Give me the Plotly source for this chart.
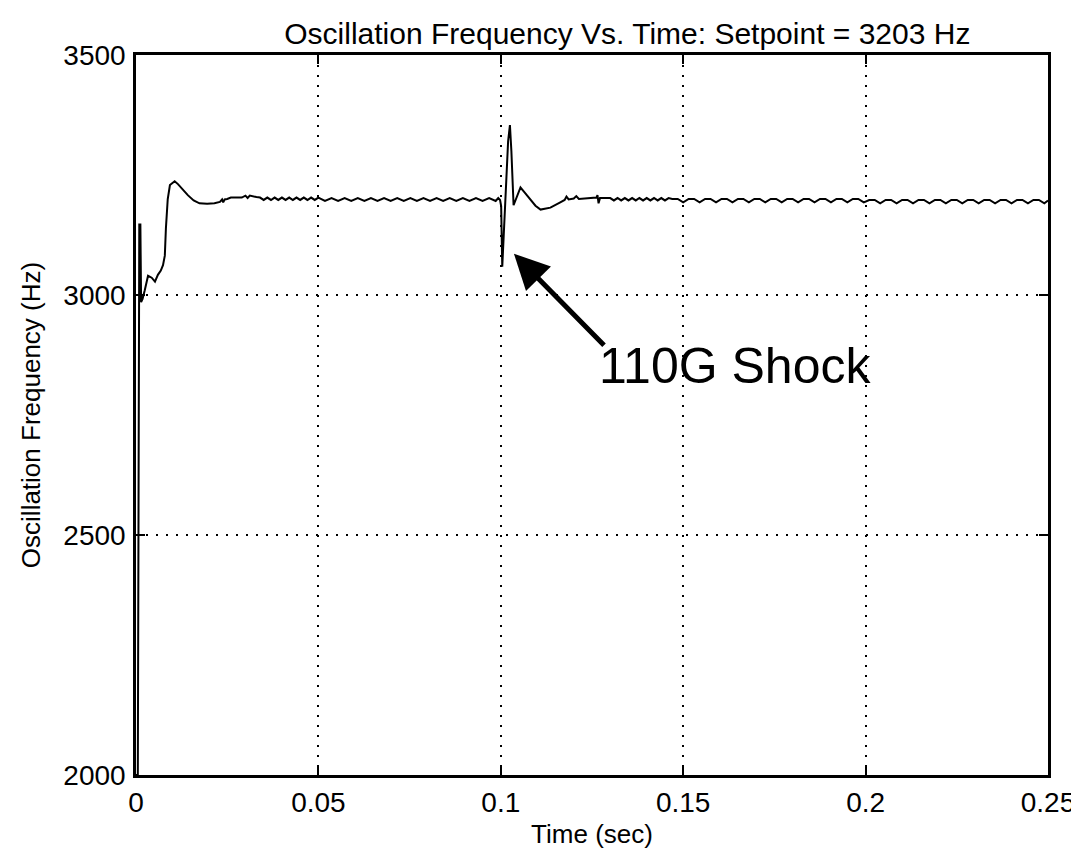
import plotly.graph_objects as go

# ---- data ----
startup_t = [0.0000, 0.0005, 0.0009, 0.0012, 0.0014, 0.0018, 0.0024, 0.0033, 0.0043, 0.0052,
             0.0060, 0.0068, 0.0074, 0.0079, 0.0082, 0.0087, 0.0093, 0.0100, 0.0106, 0.0115,
             0.0128, 0.0142, 0.0158, 0.0174, 0.0195, 0.0215, 0.0230, 0.0236, 0.0239, 0.0243,
             0.0250, 0.0260, 0.0290, 0.0300, 0.0306, 0.0312, 0.0330]
startup_f = [2000, 2000, 3147, 3147, 2985, 2992, 3010, 3040, 3036, 3028,
             3042, 3051, 3062, 3082, 3139, 3200, 3229, 3234, 3237, 3231,
             3219, 3208, 3197, 3191, 3190, 3191, 3194, 3199, 3193, 3199,
             3200, 3203, 3203, 3207, 3202, 3207, 3204]

steady1_t = [0.0340, 0.0350, 0.0360, 0.0370, 0.0380, 0.0390, 0.0400, 0.0410, 0.0420, 0.0430,
             0.0440, 0.0450, 0.0460, 0.0470, 0.0480, 0.0490, 0.0500,
             0.0518, 0.0536, 0.0554, 0.0572, 0.0590, 0.0608, 0.0626, 0.0644, 0.0662, 0.0680,
             0.0698, 0.0716, 0.0734, 0.0752, 0.0770, 0.0788, 0.0806, 0.0824, 0.0842, 0.0860,
             0.0878, 0.0896, 0.0914, 0.0932, 0.0950, 0.0968, 0.0986]
steady1_f = [3203, 3198, 3203, 3198, 3203, 3198, 3203, 3198, 3203, 3198,
             3203, 3198, 3203, 3198, 3203, 3198, 3203,
             3196, 3202, 3196, 3202, 3196, 3202, 3196, 3202, 3196, 3202,
             3196, 3202, 3196, 3202, 3196, 3202, 3196, 3202, 3196, 3202,
             3196, 3202, 3196, 3202, 3196, 3202, 3196]

shock_t = [0.0993, 0.0998, 0.1001, 0.1004, 0.1008, 0.1014, 0.1020, 0.1025, 0.1029, 0.1035,
           0.1045, 0.1054, 0.1064, 0.1082, 0.1095, 0.1109, 0.1136, 0.1163, 0.1175, 0.1180,
           0.1186, 0.1200, 0.1207, 0.1214, 0.1240, 0.1262, 0.1265, 0.1268, 0.1272, 0.1300]
shock_f = [3202, 3198, 3185, 3059, 3120, 3200, 3320, 3354, 3300, 3187,
           3205, 3224, 3215, 3197, 3186, 3178, 3182, 3193, 3198, 3205,
           3199, 3201, 3206, 3200, 3202, 3203, 3208, 3191, 3202, 3202]

steady2_t = [0.1310, 0.1320, 0.1330, 0.1340, 0.1350, 0.1360, 0.1370, 0.1380, 0.1390, 0.1400,
             0.1410, 0.1420, 0.1430, 0.1440, 0.1450, 0.1460,
             0.1470, 0.1485, 0.1500, 0.1515, 0.1530, 0.1545, 0.1560, 0.1575, 0.1590, 0.1605,
             0.1620, 0.1635, 0.1650, 0.1665, 0.1680, 0.1695, 0.1710, 0.1725, 0.1740, 0.1755,
             0.1770, 0.1785, 0.1800, 0.1815, 0.1830, 0.1845, 0.1860, 0.1875, 0.1890, 0.1905,
             0.1920, 0.1935, 0.1950, 0.1965, 0.1980, 0.1995, 0.2010, 0.2025, 0.2040, 0.2055,
             0.2070, 0.2085, 0.2100, 0.2115, 0.2130, 0.2145, 0.2160, 0.2175, 0.2190, 0.2205,
             0.2220, 0.2235, 0.2250, 0.2265, 0.2280, 0.2295, 0.2310, 0.2325, 0.2340, 0.2355,
             0.2370, 0.2385, 0.2400, 0.2415, 0.2430, 0.2445, 0.2460, 0.2475, 0.2490, 0.2500]
steady2_f = [3197, 3202, 3197, 3202, 3197, 3202, 3197, 3202, 3197, 3202,
             3197, 3202, 3197, 3202, 3197, 3202,
             3200, 3200, 3193, 3200, 3200, 3193, 3200, 3200, 3193, 3200,
             3200, 3193, 3200, 3200, 3193, 3200, 3200, 3193, 3200, 3200,
             3193, 3200, 3200, 3193, 3200, 3200, 3193, 3200, 3200, 3193,
             3200, 3200, 3193, 3200, 3200, 3193, 3198, 3198, 3191, 3198,
             3198, 3191, 3198, 3198, 3191, 3198, 3198, 3191, 3198, 3198,
             3191, 3198, 3198, 3191, 3198, 3198, 3191, 3198, 3198, 3191,
             3198, 3198, 3191, 3198, 3198, 3191, 3198, 3198, 3191, 3197]

x_ticks = [0, 0.05, 0.1, 0.15, 0.2, 0.25]
x_tick_labels = ["0", "0.05", "0.1", "0.15", "0.2", "0.25"]
y_ticks = [2000, 2500, 3000, 3500]
y_tick_labels = ["2000", "2500", "3000", "3500"]

title_text = "Oscillation Frequency Vs. Time: Setpoint = 3203 Hz"
x_title = "Time (sec)"
y_title = "Oscillation Frequency (Hz)"
note_text = "110G Shock"
arrow_head = (0.1036, 3086)
arrow_tail = (0.1287, 2892)
note_pos = (0.1265, 2852)

time_s = startup_t + steady1_t + shock_t + steady2_t
freq_hz = startup_f + steady1_f + shock_f + steady2_f

FONT = "Liberation Sans, Arial, Helvetica, sans-serif"

fig = go.Figure(go.Scatter(x=time_s, y=freq_hz, mode="lines",
                           line=dict(color="black", width=2), showlegend=False,
                           cliponaxis=True))

axis_common = dict(
    ticks="inside", ticklen=9, tickwidth=2, tickcolor="black",
    showline=True, linecolor="black", linewidth=2.5, mirror="ticks",
    showgrid=True, gridcolor="black", gridwidth=1.5, griddash="2px,8px",
    zeroline=False, tickfont=dict(size=28, family=FONT, color="black"),
)

fig.update_layout(
    width=1079, height=855,
    margin=dict(l=128, r=34, t=47, b=88),
    paper_bgcolor="white", plot_bgcolor="white",
    font=dict(family=FONT, color="black"),
    title=dict(text=title_text, font=dict(size=30, family=FONT, color="black"),
               x=0.574, xref="container", xanchor="center",
               y=1 - 25 / 855, yref="container", yanchor="middle"),
    xaxis=dict(range=[0, 0.25], tickvals=x_ticks, ticktext=x_tick_labels,
               ticklabelstandoff=1,
               title=dict(text=x_title, font=dict(size=26, family=FONT), standoff=8),
               **axis_common),
    yaxis=dict(range=[2000, 3500], tickvals=y_ticks, ticktext=y_tick_labels,
               ticklabelstandoff=2,
               title=dict(text=y_title, font=dict(size=26, family=FONT), standoff=16),
               **axis_common),
    annotations=[
        dict(x=arrow_head[0], y=arrow_head[1], xref="x", yref="y",
             ax=arrow_tail[0], ay=arrow_tail[1], axref="x", ayref="y",
             text="", showarrow=True, arrowhead=2, arrowsize=1.4, arrowwidth=5,
             arrowcolor="black", standoff=0),
        dict(x=note_pos[0], y=note_pos[1], xref="x", yref="y",
             text=note_text, showarrow=False, xanchor="left", yanchor="middle",
             font=dict(size=50, family=FONT, color="black")),
    ],
)

fig.write_html("out.html")
